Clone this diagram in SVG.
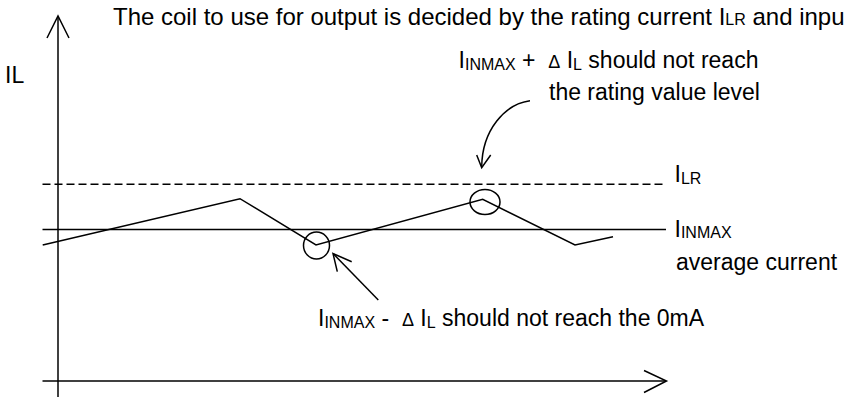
<svg xmlns="http://www.w3.org/2000/svg" width="845" height="398" viewBox="0 0 845 398">
<style>
text{font-family:"Liberation Sans",Arial,sans-serif;font-size:23px;fill:#000}
.sub{font-size:16px}
.d{font-size:18px}
.ln{fill:none;stroke:#000;stroke-width:1.5}
</style>
<rect width="845" height="398" fill="#fff"/>
<g id="axes">
<line class="ln" x1="58" y1="397" x2="58" y2="17"/>
<polyline class="ln" points="47,38 58,16 69,38"/>
<line class="ln" x1="42.5" y1="381" x2="666" y2="381"/>
<polyline class="ln" points="644,370.5 666.5,381 644,392.5"/>
</g>
<g id="levels">
<line class="ln" x1="42.5" y1="184.3" x2="666" y2="184.3" stroke-dasharray="8 4"/>
<line class="ln" x1="42.5" y1="229.5" x2="666" y2="229.5"/>
</g>
<g id="waveform">
<polyline class="ln" points="42.7,245 240,198.7 316,245 482.7,199.3 575,245 613,236.7"/>
<ellipse class="ln" cx="316.5" cy="245.5" rx="13" ry="13.5"/>
<ellipse class="ln" cx="485" cy="202" rx="15" ry="12.5"/>
</g>
<g id="connectors">
<path class="ln" d="M530,100.7 C505,104 482,130 481.7,167"/>
<polyline class="ln" points="476.7,155 481.7,167.7 490.7,155"/>
<line class="ln" x1="378.3" y1="300" x2="333.5" y2="254"/>
<polyline class="ln" points="337.3,271.7 333,253.5 351.7,261.7"/>
</g>
<g id="title">
<text x="113" y="25" style="font-size:24px">The coil to use for output is decided by the rating current I<tspan style="font-size:16px">LR</tspan> and inpu</text>
</g>
<g id="axis-label">
<text x="5" y="83">IL</text>
</g>
<g id="label-ilr">
<text x="674.5" y="182">I<tspan class="sub" dy="1.5">LR</tspan></text>
</g>
<g id="label-inmax">
<text x="674.5" y="236.5">I<tspan class="sub" dy="1.5">INMAX</tspan></text>
<text x="676" y="270">average current</text>
</g>
<g id="note-upper">
<text x="458.6" y="68" xml:space="preserve">I<tspan class="sub" dy="1.5">INMAX</tspan><tspan dy="-1.5"> +  </tspan><tspan class="d">Δ</tspan><tspan> I</tspan><tspan class="sub" dy="1.5">L</tspan><tspan dy="-1.5"> should not reach</tspan></text>
<text x="549" y="100">the rating value level</text>
</g>
<g id="note-lower">
<text x="318" y="326" xml:space="preserve">I<tspan class="sub" dy="1.5">INMAX</tspan><tspan dy="-1.5"> -  </tspan><tspan class="d">Δ</tspan><tspan> I</tspan><tspan class="sub" dy="1.5">L</tspan><tspan dy="-1.5"> should not reach the 0mA</tspan></text>
</g>
</svg>
